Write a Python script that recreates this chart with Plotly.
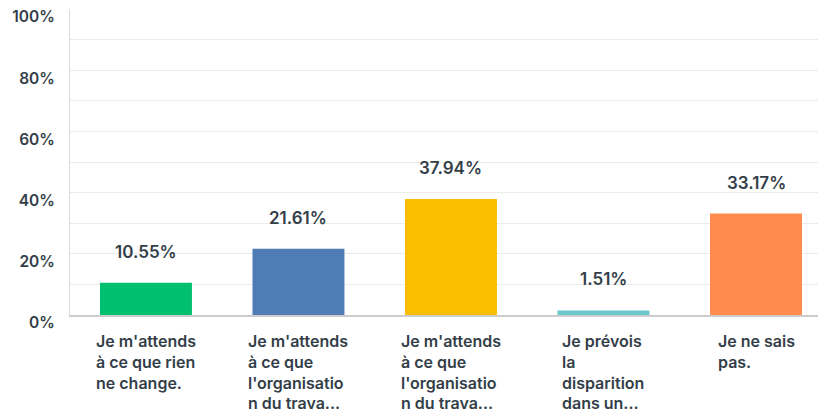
import plotly.graph_objects as GO

# answer options (already wrapped / truncated like the survey export)
categories = [
    "Je m'attends<br>à ce que rien<br>ne change.",
    "Je m'attends<br>à ce que<br>l'organisatio<br>n du trava...",
    "Je m'attends<br>à ce que<br>l'organisatio<br>n du trava...",
    "Je prévois<br>la<br>disparition<br>dans un...",
    "Je ne sais<br>pas.",
]
values = [10.55, 21.61, 37.94, 1.51, 33.17]
colors = ["#00BF6F", "#507CB6", "#F9BE00", "#6BC8CD", "#FF8B4F"]
y_ticks = [0, 20, 40, 60, 80, 100]
y_tick_labels = ["0%", "20%", "40%", "60%", "80%", "100%"]

TEXT = "#333E48"
FONT = "Inter"


def main():
  xs = list(range(len(values)))

  fig = GO.Figure()
  fig.add_trace(GO.Bar(
      x=xs,
      y=values,
      width=0.603,
      marker=dict(color=colors, line=dict(width=0)),
      hoverinfo="skip"
  ))

  notes = []
  # value labels above the bars
  for x, v in zip(xs, values):
    notes.append(dict(
        x=x, y=v, xref="x", yref="y",
        text=f"{v:.2f}%",
        showarrow=False,
        yanchor="middle",
        yshift=31,
        font=dict(family=FONT, size=17, color=TEXT, weight=600)
    ))
  # category labels, centred block with left aligned lines
  for x, c in zip(xs, categories):
    notes.append(dict(
        x=x, y=0, xref="x", yref="paper",
        text=c,
        showarrow=False,
        xanchor="center",
        yanchor="top",
        align="left",
        yshift=-14,
        font=dict(family=FONT, size=16, color=TEXT, weight=600)
    ))

  # the page body adds an 8px offset, so the figure is 8px smaller
  fig.update_layout(
      width=818,
      height=409,
      margin=dict(l=62, r=0, t=1, b=102),
      paper_bgcolor="white",
      plot_bgcolor="white",
      showlegend=False,
      annotations=notes,
      font=dict(family=FONT, color=TEXT),
      xaxis=dict(
          range=[-0.498, 4.459],
          showticklabels=False,
          showgrid=False,
          zeroline=False,
          showline=True,
          linecolor="#CCCCCC",
          linewidth=1.5,
          automargin=False,
          fixedrange=True
      ),
      yaxis=dict(
          range=[0, 100],
          tickvals=y_ticks,
          ticktext=y_tick_labels,
          ticks="",
          ticklabelstandoff=11,
          ticklabelshift=8,
          ticklabeloverflow="allow",
          tickfont=dict(family=FONT, size=15.5, color=TEXT, weight=600),
          showgrid=True,
          gridcolor="#EBEBEB",
          gridwidth=1,
          minor=dict(dtick=10, showgrid=True, gridcolor="#EBEBEB", gridwidth=1),
          zeroline=False,
          showline=True,
          linecolor="#DDDDDD",
          linewidth=1,
          automargin=False,
          fixedrange=True
      )
  )

  fig.write_html("out.html")


if __name__ == "__main__":
  main()
